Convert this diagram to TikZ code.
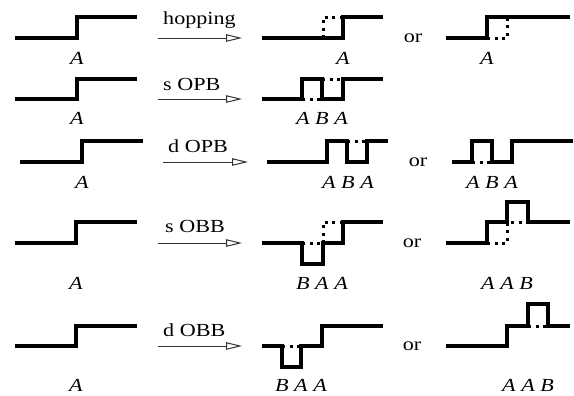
\documentclass[tikz,border=0pt]{standalone}
\usepackage{graphicx}
\usepackage{fontspec}
\setmainfont{Liberation Serif}
\usetikzlibrary{arrows.meta}
\newcommand{\sttxt}[1]{\scalebox{1.2}[1]{#1}}
\tikzset{
  prof/.style={line width=3.2bp, line join=miter},
  ghost/.style={line width=3bp, dash pattern=on 3bp off 4.5bp},
  trans/.style={line width=1bp, draw=black!80, -{Triangle[open,length=16bp,width=7.5bp,line width=1bp]}},
  lbl/.style={font=\fontsize{18.5}{21}\selectfont, inner sep=0pt},
  tlbl/.style={lbl, anchor=base west},
}
\begin{document}
\begin{tikzpicture}[x=1bp,y=-1bp]
\useasboundingbox (0,0) rectangle (574,395);
% ---------- row 1: hopping
\draw[prof] (15,38) -- (77,38) -- (77,17) -- (137,17);
\node[lbl] (r1a) at (77,58) {\sttxt{\textit{A}}};
\coordinate (a1s) at (158,38); \coordinate (a1e) at (242,38);
\draw[trans] (a1s) -- (a1e);
\node[tlbl] (t1) at (163,24) {\sttxt{hopping}};
\draw[prof] (262,38) -- (343,38) -- (343,17) -- (383,17);
\draw[ghost] (323,38) -- (323,17) -- (343,17);
\node[lbl] (r1b) at (343,58) {\sttxt{\textit{A}}};
\node[lbl] (o1) at (413,38) {\sttxt{or}};
\draw[prof] (446,38) -- (487,38) -- (487,17) -- (570,17);
\draw[ghost] (487,38) -- (507,38) -- (507,17);
\node[lbl] (r1c) at (487,58) {\sttxt{\textit{A}}};
% ---------- row 2: s OPB
\draw[prof] (15,99) -- (77,99) -- (77,79) -- (137,79);
\node[lbl] (r2a) at (77,118) {\sttxt{\textit{A}}};
\coordinate (a2s) at (158,99); \coordinate (a2e) at (242,99);
\draw[trans] (a2s) -- (a2e);
\node[tlbl] (t2) at (163,90) {\sttxt{s OPB}};
\draw[prof] (262,99) -- (302,99) -- (302,79) -- (322,79) -- (322,99) -- (343,99) -- (343,79) -- (383,79);
\draw[ghost] (302,99) -- (322,99);
\draw[ghost] (322,79) -- (343,79);
\node[lbl] (r2b) at (322,118) {\sttxt{\textit{A B A}}};
% ---------- row 3: d OPB
\draw[prof] (20,162) -- (82,162) -- (82,141) -- (143,141);
\node[lbl] (r3a) at (82,182) {\sttxt{\textit{A}}};
\coordinate (a3s) at (163,162); \coordinate (a3e) at (248,162);
\draw[trans] (a3s) -- (a3e);
\node[tlbl] (t3) at (168,152) {\sttxt{d OPB}};
\draw[prof] (267,162) -- (327,162) -- (327,141) -- (347,141) -- (347,162) -- (367,162) -- (367,141) -- (388,141);
\draw[ghost] (347,141) -- (367,141);
\node[lbl] (r3b) at (348,182) {\sttxt{\textit{A B A}}};
\node[lbl] (o3) at (418,162) {\sttxt{or}};
\draw[prof] (452,162) -- (472,162) -- (472,141) -- (492,141) -- (492,162) -- (512,162) -- (512,141) -- (573,141);
\draw[ghost] (472,162) -- (492,162);
\node[lbl] (r3c) at (492,182) {\sttxt{\textit{A B A}}};
% ---------- row 4: s OBB
\draw[prof] (15,243) -- (76,243) -- (76,222) -- (137,222);
\node[lbl] (r4a) at (76,283) {\sttxt{\textit{A}}};
\coordinate (a4s) at (158,243); \coordinate (a4e) at (242,243);
\draw[trans] (a4s) -- (a4e);
\node[tlbl] (t4) at (165,232) {\sttxt{s OBB}};
\draw[prof] (262,243) -- (302,243) -- (302,264) -- (323,264) -- (323,243) -- (343,243) -- (343,222) -- (383,222);
\draw[ghost] (302,243) -- (323,243);
\draw[ghost] (323,243) -- (323,222) -- (343,222);
\node[lbl] (r4b) at (322,283) {\sttxt{\textit{B A A}}};
\node[lbl] (o4) at (412,243) {\sttxt{or}};
\draw[prof] (446,243) -- (487,243) -- (487,222) -- (507,222) -- (507,202) -- (528,202) -- (528,222) -- (570,222);
\draw[ghost] (487,243) -- (507,243) -- (507,222) -- (528,222);
\node[lbl] (r4c) at (507,283) {\sttxt{\textit{A A B}}};
% ---------- row 5: d OBB
\draw[prof] (15,346) -- (76,346) -- (76,326) -- (137,326);
\node[lbl] (r5a) at (76,385) {\sttxt{\textit{A}}};
\coordinate (a5s) at (158,346); \coordinate (a5e) at (242,346);
\draw[trans] (a5s) -- (a5e);
\node[tlbl] (t5) at (163,336) {\sttxt{d OBB}};
\draw[prof] (262,346) -- (282,346) -- (282,367) -- (301,367) -- (301,346) -- (322,346) -- (322,326) -- (383,326);
\draw[ghost] (282,346) -- (301,346);
\node[lbl] (r5b) at (301,385) {\sttxt{\textit{B A A}}};
\node[lbl] (o5) at (412,346) {\sttxt{or}};
\draw[prof] (446,346) -- (507,346) -- (507,326) -- (528,326) -- (528,304) -- (548,304) -- (548,326) -- (570,326);
\draw[ghost] (528,326) -- (548,326);
\node[lbl] (r5c) at (528,385) {\sttxt{\textit{A A B}}};
\end{tikzpicture}
\end{document}
